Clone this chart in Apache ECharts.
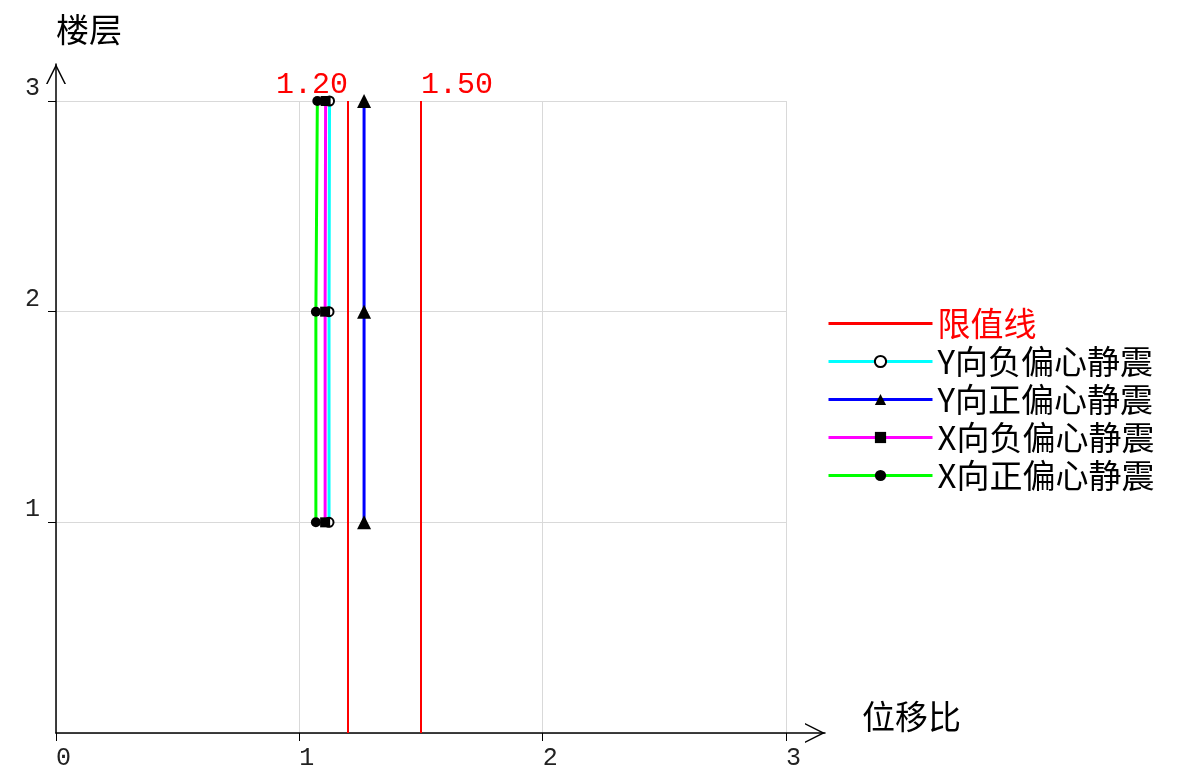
<!DOCTYPE html>
<html>
<head>
<meta charset="utf-8">
<script src="https://cdn.jsdelivr.net/npm/echarts@6/dist/echarts.min.js"></script>
<style>html,body{margin:0;padding:0;background:#fff}#c{width:1182px;height:774px}</style>
</head>
<body>
<div id="c"></div>
<script>
const floors = [1, 2, 3];
const yNegEcc = [1.122, 1.122, 1.124];   // Y向负偏心静震 (cyan)
const yPosEcc = [1.266, 1.266, 1.266];   // Y向正偏心静震 (blue)
const xNegEcc = [1.106, 1.106, 1.108];   // X向负偏心静震 (magenta)
const xPosEcc = [1.068, 1.068, 1.074];   // X向正偏心静震 (green)
const limits = [1.2, 1.5];
const limitLabels = ['1.20', '1.50'];
const xTicks = [0, 1, 2, 3];
const yTicks = [0, 1, 2, 3];
const legendNames = ['限值线', 'Y向负偏心静震', 'Y向正偏心静震', 'X向负偏心静震', 'X向正偏心静震'];

const numFont = 'Liberation Mono';
const cjkFont = '"Noto Sans CJK SC", sans-serif';
const arrowPath = 'path://M10,0 L20,20 L18.4,20 L10,3.2 L1.6,20 L0,20 Z';
const lineIcon = 'path://M0,0 L104,0 L104,3 L0,3 Z';

function pairs(vals) { return vals.map((v, i) => [v, floors[i]]); }

const chart = echarts.init(document.getElementById('c'), null, {renderer: 'canvas'});
chart.setOption({
  backgroundColor: '#fff',
  animation: false,
  grid: [
    {left: 56, right: 396, top: 101, bottom: 41, outerBoundsMode: 'none', containLabel: false},
    {left: 56, right: 357, top: 64, bottom: 41, outerBoundsMode: 'none', containLabel: false}
  ],
  legend: {
    orient: 'vertical',
    left: 822,
    top: 302,
    itemWidth: 104,
    itemHeight: 14,
    itemGap: 5,
    lineStyle: {width: 3},
    textStyle: {fontFamily: cjkFont, fontSize: 33, lineHeight: 32, color: '#000'},
    data: [
      {name: legendNames[0], icon: lineIcon, textStyle: {color: '#ff0000'}},
      legendNames[1], legendNames[2], legendNames[3], legendNames[4]
    ]
  },
  xAxis: [
    {
      type: 'value', gridIndex: 0, min: xTicks[0], max: xTicks[xTicks.length - 1], interval: 1,
      axisLine: {show: false},
      axisTick: {show: true, length: 8, lineStyle: {color: '#000'}},
      axisLabel: {align: 'left', margin: 13, fontFamily: numFont, fontSize: 25, color: '#222'},
      splitLine: {show: true, lineStyle: {color: '#d9d9d9', width: 1}}
    },
    {
      type: 'value', gridIndex: 1, min: 0, max: 1,
      name: '位移比', nameLocation: 'end', nameGap: 37,
      nameTextStyle: {fontFamily: cjkFont, fontSize: 33, color: '#000', align: 'left', verticalAlign: 'bottom'},
      axisLine: {show: true, onZero: false, lineStyle: {color: '#000', width: 1.5},
        symbol: ['none', arrowPath], symbolSize: [20, 20], symbolOffset: [0, -10]},
      axisTick: {show: false}, axisLabel: {show: false}, splitLine: {show: false}
    }
  ],
  yAxis: [
    {
      type: 'value', gridIndex: 0, min: yTicks[0], max: yTicks[yTicks.length - 1], interval: 1,
      axisLine: {show: false},
      axisTick: {show: true, length: 8, lineStyle: {color: '#000'}},
      axisLabel: {showMinLabel: false, verticalAlign: 'bottom', margin: 16, fontFamily: numFont, fontSize: 25, color: '#222'},
      splitLine: {show: true, lineStyle: {color: '#d9d9d9', width: 1}}
    },
    {
      type: 'value', gridIndex: 1, min: 0, max: 1,
      name: '楼层', nameLocation: 'end', nameGap: 18,
      nameTextStyle: {fontFamily: cjkFont, fontSize: 33, color: '#000', align: 'left', verticalAlign: 'bottom'},
      axisLine: {show: true, onZero: false, lineStyle: {color: '#000', width: 1.5},
        symbol: ['none', arrowPath], symbolSize: [20, 20], symbolOffset: [0, -10]},
      axisTick: {show: false}, axisLabel: {show: false}, splitLine: {show: false}
    }
  ],
  series: [
    {
      name: legendNames[0], type: 'line', xAxisIndex: 0, yAxisIndex: 0, data: [], symbol: 'none',
      lineStyle: {color: '#ff0000', width: 2}, itemStyle: {color: '#ff0000'},
      markLine: {
        silent: true, symbol: 'none', animation: false,
        lineStyle: {color: '#ff0000', width: 2, type: 'solid'},
        data: limits.map((v, i) => [
          {coord: [v, yTicks[0]]},
          {coord: [v, yTicks[yTicks.length - 1]],
           label: {show: true, position: 'end', distance: 1, formatter: limitLabels[i],
                   align: i === 0 ? 'right' : 'left',
                   fontFamily: numFont, fontSize: 30, color: '#ff0000'}}
        ])
      }
    },
    {
      name: legendNames[1], type: 'line', xAxisIndex: 0, yAxisIndex: 0, data: pairs(yNegEcc),
      symbol: 'emptyCircle', symbolSize: 9,
      lineStyle: {color: '#00ffff', width: 3}, itemStyle: {color: '#000', borderWidth: 2}
    },
    {
      name: legendNames[2], type: 'line', xAxisIndex: 0, yAxisIndex: 0, data: pairs(yPosEcc),
      symbol: 'triangle', symbolSize: 14,
      lineStyle: {color: '#0000ff', width: 3}, itemStyle: {color: '#000'}
    },
    {
      name: legendNames[3], type: 'line', xAxisIndex: 0, yAxisIndex: 0, data: pairs(xNegEcc),
      symbol: 'rect', symbolSize: 10,
      lineStyle: {color: '#ff00ff', width: 3}, itemStyle: {color: '#000'}
    },
    {
      name: legendNames[4], type: 'line', xAxisIndex: 0, yAxisIndex: 0, data: pairs(xPosEcc),
      symbol: 'circle', symbolSize: 10,
      lineStyle: {color: '#00ff00', width: 3}, itemStyle: {color: '#000'}
    }
  ]
});
</script>
</body>
</html>
